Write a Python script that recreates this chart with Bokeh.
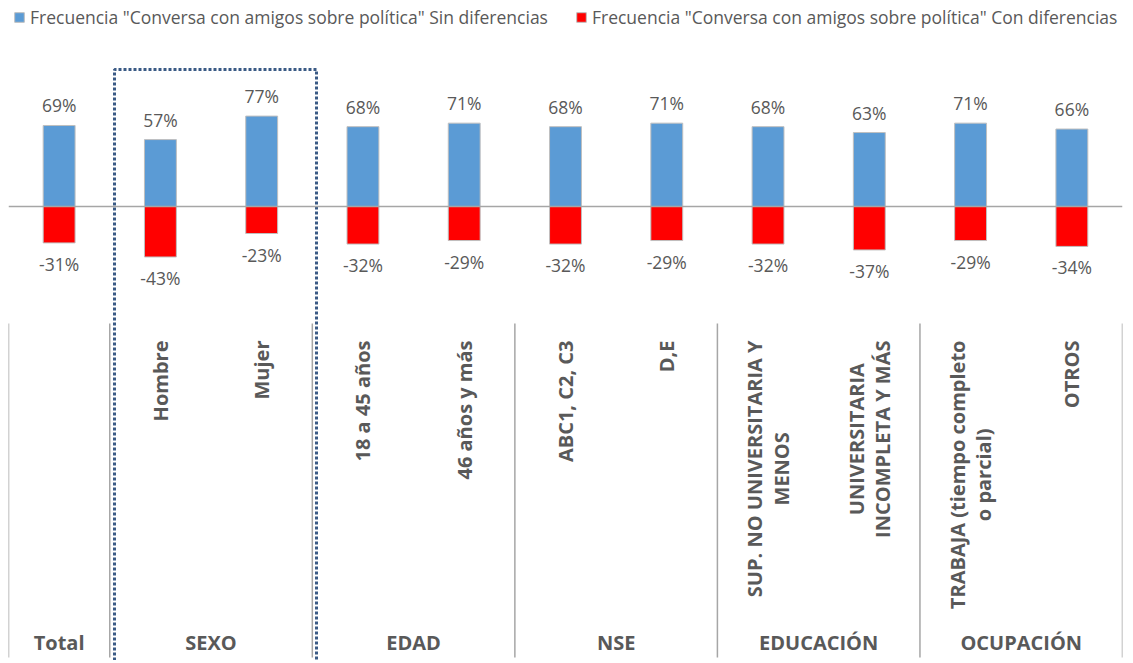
from bokeh.plotting import figure
from bokeh.models import FactorRange, Range1d, Span, Legend, LegendItem, ColumnDataSource
from bokeh.core.properties import value
from bokeh.embed import file_html
from bokeh.resources import INLINE
import math

categories = ["Total", "Hombre", "Mujer", "18 a 45 años", "46 años y más",
              "ABC1, C2, C3", "D,E", "SUP. NO UNIVERSITARIA Y\nMENOS",
              "UNIVERSITARIA\nINCOMPLETA Y MÁS", "TRABAJA (tiempo completo\no parcial)", "OTROS"]
sin_dif = [69, 57, 77, 68, 71, 68, 71, 68, 63, 71, 66]
con_dif = [-31, -43, -23, -32, -29, -32, -29, -32, -37, -29, -34]
groups = ["Total", "SEXO", "EDAD", "NSE", "EDUCACIÓN", "OCUPACIÓN"]
group_sizes = [1, 2, 2, 2, 2, 2]
series_names = ['Frecuencia "Conversa con amigos sobre política" Sin diferencias',
                'Frecuencia "Conversa con amigos sobre política" Con diferencias']

BLUE = "#5B9BD5"
RED = "#FF0000"
TXT = "#595959"
GRAY = "#A6A6A6"
FONT = "Open Sans"

W, H = 1125, 660
PX_PER = 1.174       # pixels per percentage point
ZERO_PAGE = 206      # pixel y of the zero line
def yv(py):
    return (ZERO_PAGE - py) / PX_PER

p = figure(width=W, height=H, output_backend="svg", toolbar_location=None,
           x_range=FactorRange(factors=categories, range_padding=0, factor_padding=0),
           y_range=Range1d(yv(H), yv(0)),
           x_axis_location=None, y_axis_location=None,
           min_border_left=8, min_border_right=3, min_border_top=0, min_border_bottom=0)
p.outline_line_color = None
p.background_fill_color = "white"
p.xgrid.visible = False
p.ygrid.visible = False
p.grid.grid_line_color = None

src = ColumnDataSource(dict(
    cat=categories, pos=sin_dif, neg=con_dif,
    pos_lbl=[f"{v}%" for v in sin_dif], neg_lbl=[f"{v}%" for v in con_dif]))

r1 = p.vbar(x="cat", top="pos", bottom=0, width=0.315, source=src,
            fill_color=BLUE, line_color="#BFBFBF", line_width=1)
r2 = p.vbar(x="cat", top=0, bottom="neg", width=0.315, source=src,
            fill_color=RED, line_color="#BFBFBF", line_width=1)

p.add_layout(Span(location=0, dimension="width", line_color=GRAY, line_width=1.5))

p.text(x="cat", y="pos", text="pos_lbl", source=src, text_align="center",
       text_baseline="bottom", y_offset=-8, text_font=value(FONT),
       text_font_size="17.5px", text_color=TXT)
p.text(x="cat", y="neg", text="neg_lbl", source=src, text_align="center",
       text_baseline="top", y_offset=9, text_font=value(FONT),
       text_font_size="17.5px", text_color=TXT)

# category labels (rotated)
p.text(x=categories, y=[yv(340)] * len(categories), text=[c if c != "Total" else "" for c in categories],
       angle=math.pi / 2, text_align="center", anchor="center_right",
       text_font=value(FONT), text_font_size="20px", text_font_style="bold",
       text_color=TXT, text_line_height=0.98)

# group separators and labels
bounds = [0]
for s in group_sizes:
    bounds.append(bounds[-1] + s)
p.segment(x0=bounds, y0=[yv(323)] * len(bounds), x1=bounds, y1=[yv(657)] * len(bounds),
          line_color=GRAY, line_width=1.5)
centers = [(bounds[i] + bounds[i + 1]) / 2 for i in range(len(groups))]
p.text(x=centers, y=[yv(642)] * len(groups), text=groups, text_align="center",
       text_baseline="middle", text_font=value(FONT), text_font_size="20px",
       text_font_style="bold", text_color=TXT)

# dotted highlight box around SEXO
bx0, bx1 = 1 + (114 - 8 - 101.27) / 101.27, 3 + (316 - 8 - 3 * 101.27) / 101.27
p.multi_line(xs=[[bx0, bx0, bx1, bx1]], ys=[[yv(720), yv(69), yv(69), yv(720)]],
             line_color="#3A5A85", line_width=3, line_dash="3 2")

legend = Legend(items=[LegendItem(label=series_names[0], renderers=[r1]),
                       LegendItem(label=series_names[1], renderers=[r2])],
                orientation="horizontal", location=(5, H - 29),
                glyph_width=12, glyph_height=12, label_standoff=5, spacing=27,
                padding=0, margin=0, border_line_color=None, background_fill_alpha=0,
                label_text_font=FONT, label_text_font_size="17.5px", label_text_color=TXT)
p.add_layout(legend)

open("out.html", "w").write(file_html(p, INLINE))
